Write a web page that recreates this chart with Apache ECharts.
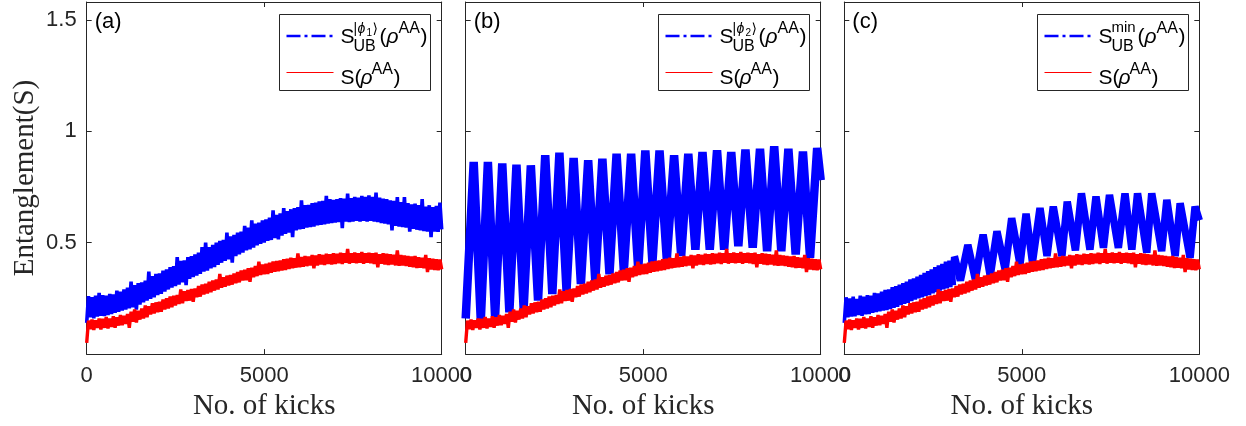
<!DOCTYPE html>
<html><head><meta charset="utf-8">
<script src="https://cdn.jsdelivr.net/npm/echarts@6/dist/echarts.min.js"></script>
<style>html,body{margin:0;padding:0;background:#fff}#main{width:1246px;height:426px}</style>
</head><body><div id="main"></div>
<script>
// ---------- data ----------
const xTicks = [0, 5000, 10000];
const yTickLabels = ['0.5', '1', '1.5'];
const panelLabels = ['(a)', '(b)', '(c)'];
const blueSupLabels = ['phi1', 'phi2', 'min'];
const xName = 'No. of kicks';
const yName = 'Entanglement(S)';

const kicks = [0,50,100,150,200,250,300,350,400,450,500,550,600,650,700,750,800,850,900,950,
  1000,1050,1100,1150,1200,1250,1300,1350,1400,1450,1500,1550,1600,1650,1700,1750,1800,1850,1900,1950,
  2000,2050,2100,2150,2200,2250,2300,2350,2400,2450,2500,2550,2600,2650,2700,2750,2800,2850,2900,2950,
  3000,3050,3100,3150,3200,3250,3300,3350,3400,3450,3500,3550,3600,3650,3700,3750,3800,3850,3900,3950,
  4000,4050,4100,4150,4200,4250,4300,4350,4400,4450,4500,4550,4600,4650,4700,4750,4800,4850,4900,4950,
  5000,5050,5100,5150,5200,5250,5300,5350,5400,5450,5500,5550,5600,5650,5700,5750,5800,5850,5900,5950,
  6000,6050,6100,6150,6200,6250,6300,6350,6400,6450,6500,6550,6600,6650,6700,6750,6800,6850,6900,6950,
  7000,7050,7100,7150,7200,7250,7300,7350,7400,7450,7500,7550,7600,7650,7700,7750,7800,7850,7900,7950,
  8000,8050,8100,8150,8200,8250,8300,8350,8400,8450,8500,8550,8600,8650,8700,8750,8800,8850,8900,8950,
  9000,9050,9100,9150,9200,9250,9300,9350,9400,9450,9500,9550,9600,9650,9700,9750,9800,9850,9900,9950,10000];

// S(rho^AA) (same curve in all panels)
const redS = [0.05,0.15,0.112,0.155,0.108,0.152,0.118,0.16,0.11,0.158,0.118,0.166,0.115,0.16,0.122,0.17,0.118,0.165,0.128,0.175,
  0.13,0.172,0.135,0.18,0.118,0.19,0.145,0.2,0.142,0.195,0.155,0.205,0.16,0.218,0.165,0.215,0.178,0.228,0.182,0.232,
  0.188,0.235,0.19,0.245,0.2,0.25,0.205,0.258,0.21,0.262,0.218,0.265,0.225,0.29,0.228,0.282,0.238,0.288,0.24,0.292,
  0.235,0.295,0.255,0.305,0.258,0.312,0.268,0.315,0.272,0.325,0.278,0.33,0.285,0.335,0.29,0.36,0.298,0.345,0.302,0.352,
  0.308,0.355,0.312,0.362,0.318,0.368,0.322,0.375,0.33,0.378,0.332,0.385,0.325,0.388,0.345,0.395,0.35,0.415,0.355,0.402,
  0.358,0.405,0.36,0.41,0.365,0.415,0.37,0.418,0.372,0.42,0.375,0.425,0.378,0.428,0.382,0.432,0.385,0.43,0.388,0.452,
  0.39,0.435,0.392,0.44,0.395,0.438,0.398,0.445,0.385,0.442,0.398,0.448,0.402,0.445,0.4,0.45,0.405,0.448,0.402,0.452,
  0.405,0.45,0.408,0.455,0.404,0.452,0.41,0.472,0.406,0.452,0.41,0.456,0.408,0.452,0.41,0.458,0.406,0.452,0.41,0.455,
  0.408,0.452,0.405,0.455,0.39,0.448,0.406,0.452,0.402,0.45,0.4,0.448,0.402,0.446,0.398,0.465,0.396,0.445,0.398,0.442,
  0.395,0.44,0.392,0.438,0.39,0.44,0.386,0.435,0.388,0.432,0.385,0.445,0.368,0.43,0.38,0.428,0.378,0.425,0.376,0.424,0.38];

// upper bound |phi1>
const blueA = [0.14,0.26,0.165,0.255,0.16,0.262,0.168,0.275,0.172,0.265,0.17,0.262,0.175,0.27,0.18,0.268,0.185,0.285,0.19,0.28,
  0.195,0.29,0.2,0.298,0.205,0.325,0.21,0.31,0.2,0.318,0.222,0.322,0.232,0.33,0.24,0.37,0.248,0.35,0.255,0.36,
  0.265,0.362,0.27,0.375,0.28,0.38,0.29,0.39,0.298,0.395,0.305,0.435,0.312,0.418,0.322,0.42,0.31,0.435,0.338,0.44,
  0.345,0.448,0.352,0.455,0.36,0.48,0.37,0.5,0.375,0.48,0.385,0.49,0.39,0.5,0.4,0.508,0.41,0.512,0.418,0.545,
  0.425,0.528,0.41,0.535,0.44,0.545,0.448,0.55,0.455,0.575,0.465,0.568,0.47,0.6,0.478,0.585,0.488,0.59,0.495,0.6,
  0.5,0.605,0.508,0.612,0.512,0.645,0.52,0.625,0.515,0.632,0.532,0.655,0.54,0.642,0.545,0.65,0.525,0.655,0.555,0.66,
  0.56,0.69,0.562,0.668,0.568,0.67,0.57,0.678,0.572,0.68,0.578,0.685,0.58,0.688,0.582,0.71,0.585,0.695,0.588,0.692,
  0.59,0.695,0.592,0.7,0.565,0.698,0.595,0.72,0.592,0.7,0.595,0.705,0.598,0.702,0.595,0.71,0.598,0.705,0.595,0.712,
  0.598,0.705,0.595,0.725,0.592,0.702,0.588,0.698,0.585,0.695,0.582,0.69,0.555,0.688,0.575,0.705,0.572,0.682,0.57,0.705,
  0.568,0.678,0.55,0.672,0.562,0.675,0.558,0.668,0.555,0.695,0.552,0.662,0.55,0.668,0.525,0.66,0.55,0.665,0.548,0.68,0.56];

// upper bound |phi2> : peaks / troughs
const blueBKicks = [0,225,425,625,828,1030,1230,1430,1632,1835,2038,2240,2440,2640,2840,3040,3245,3450,3650,3850,4050,4250,4455,4660,4860,5060,5260,5460,5665,5870,6070,6270,6470,6670,6875,7080,7280,7480,7680,7880,8085,8290,8490,8690,8890,9090,9295,9500,9700,9900,10000];
const blueB = [0.16,0.862,0.151,0.862,0.166,0.855,0.188,0.85,0.203,0.847,0.24,0.892,0.27,0.904,0.284,0.88,0.314,0.87,0.329,0.877,0.358,0.899,0.373,0.899,0.38,0.914,0.41,0.914,0.425,0.892,0.44,0.899,0.469,0.907,0.469,0.914,0.469,0.907,0.484,0.918,0.477,0.921,0.462,0.933,0.462,0.921,0.447,0.909,0.432,0.925,0.78];

// upper bound min : early noisy part (0..3100) and oscillating part
const blueCEarly = [0.14,0.255,0.165,0.25,0.168,0.258,0.17,0.248,0.175,0.262,0.172,0.258,0.178,0.265,0.18,0.262,0.185,0.275,0.188,0.272,
  0.192,0.28,0.195,0.288,0.198,0.29,0.202,0.3,0.208,0.305,0.212,0.312,0.22,0.318,0.225,0.325,0.23,0.335,0.238,0.34,
  0.245,0.348,0.25,0.355,0.255,0.365,0.26,0.372,0.265,0.38,0.272,0.39,0.278,0.398,0.285,0.405,0.29,0.415,0.295,0.42,
  0.3,0.43,0.31];
const blueCOscKicks = [3100,3270,3480,3690,3910,4110,4300,4530,4715,4950,5120,5300,5513,5710,5887,6130,6280,6510,6680,6920,7090,7300,7470,7720,7907,8100,8260,8520,8660,8940,9085,9320,9460,9740,9880,10000];
const blueCOsc = [0.44,0.33,0.49,0.336,0.536,0.351,0.551,0.38,0.61,0.403,0.63,0.412,0.655,0.44,0.662,0.44,0.684,0.465,0.721,0.469,0.707,0.477,0.714,0.477,0.721,0.469,0.721,0.455,0.721,0.462,0.692,0.44,0.677,0.432,0.662,0.6];

// ---------- layout / style ----------
const sans = "'Liberation Sans', Arial, 'DejaVu Sans', sans-serif";
const serif = "'Liberation Serif', 'Times New Roman', serif";
const axisColor = '#262626';
const BLUE = '#0000ff', RED = '#ff0000';
const lefts = [86.7, 465.7, 844.3];
const W = 355, TOP = 2, H = 355.3;

function pts(k, v) { return v.map((y, j) => [k[j], y]); }

const grids = lefts.map(l => ({ left: l, top: TOP, width: W, height: H }));

const xAxes = [], yAxes = [];
lefts.forEach((l, i) => {
  const common = {
    gridIndex: i, type: 'value', min: 0, max: 10000, interval: 5000,
    axisLine: { show: true, onZero: false, lineStyle: { color: axisColor, width: 1 } },
    axisTick: { show: true, inside: true, length: 5, lineStyle: { color: axisColor } },
    splitLine: { show: false }
  };
  xAxes.push(Object.assign({}, common, {
    position: 'bottom',
    axisLabel: { show: true, fontFamily: sans, fontSize: 22, color: axisColor, margin: 11,
      formatter: v => (xTicks.indexOf(v) >= 0 ? String(v) : '') },
    name: xName, nameLocation: 'middle', nameGap: 35,
    nameTextStyle: { fontFamily: serif, fontSize: 29, color: axisColor }
  }));
  xAxes.push(Object.assign({}, common, { position: 'top', axisLabel: { show: false } }));
  const ycommon = {
    gridIndex: i, type: 'value', min: 0, max: 1.58, interval: 0.5,
    axisLine: { show: true, onZero: false, lineStyle: { color: axisColor, width: 1 } },
    axisTick: { show: true, inside: true, length: 5, lineStyle: { color: axisColor } },
    splitLine: { show: false }
  };
  const yl = Object.assign({}, ycommon, {
    position: 'left',
    axisLabel: { show: i === 0, fontFamily: sans, fontSize: 22, color: axisColor, margin: 10,
      formatter: v => { const s = yTickLabels.find(t => Math.abs(parseFloat(t) - v) < 1e-9); return s || ''; } }
  });
  if (i === 0) {
    yl.name = yName; yl.nameLocation = 'middle'; yl.nameGap = 47;
    yl.nameTextStyle = { fontFamily: serif, fontSize: 29, color: axisColor };
  }
  yAxes.push(yl);
  yAxes.push(Object.assign({}, ycommon, { position: 'right', axisLabel: { show: false } }));
});

function line(i, data, color, width, z) {
  return { type: 'line', xAxisIndex: 2 * i, yAxisIndex: 2 * i, data: data,
    symbol: 'none', showSymbol: false, animation: false, silent: true, z: z,
    lineStyle: { color: color, width: width, join: 'bevel' }, itemStyle: { color: color } };
}

const series = [
  line(0, pts(kicks, blueA), BLUE, 3.6, 2),
  line(0, pts(kicks, redS), RED, 3.4, 3),
  line(1, pts(blueBKicks, blueB), BLUE, 8.5, 2),
  line(1, pts(kicks, redS), RED, 3.4, 3),
  line(2, pts(kicks, blueCEarly), BLUE, 3.6, 2),
  line(2, pts(blueCOscKicks, blueCOsc), BLUE, 7.5, 2),
  line(2, pts(kicks, redS), RED, 3.4, 3)
];

// ---------- legend + panel labels (graphic) ----------
function txt(s, x, baseline, size, italic) {
  return { type: 'text', z: 102, x: x, y: baseline - 0.31 * size,
    style: { text: s, font: (italic ? 'italic ' : '') + size + 'px ' + sans, fill: '#000',
      align: 'left', verticalAlign: 'middle', textAlign: 'left', textVerticalAlign: 'middle' } };
}
const graphics = [];
lefts.forEach((l, i) => {
  graphics.push(txt(panelLabels[i], l + 8, 28.5, 22, false));
  const right = l + W;
  const bx = Math.round(right - 162.4) + 0.5, by = 14.5, bw = 151, bh = 76;
  const tx = bx + 61;
  graphics.push({ type: 'rect', z: 100, shape: { x: bx, y: by, width: bw, height: bh },
    style: { fill: '#fff', stroke: axisColor, lineWidth: 1 } });
  graphics.push({ type: 'line', z: 101, shape: { x1: bx + 7, y1: 36, x2: bx + 54, y2: 36 },
    style: { stroke: BLUE, lineWidth: 2.5, lineDash: [14, 4, 3, 4] } });
  graphics.push({ type: 'line', z: 101, shape: { x1: bx + 7, y1: 72.5, x2: bx + 54, y2: 72.5 },
    style: { stroke: RED, lineWidth: 1 } });
  // row 1
  graphics.push(txt('S', tx, 43.5, 21, false));
  if (blueSupLabels[i] === 'min') {
    graphics.push(txt('min', tx + 13, 33, 15, false));
  } else {
    graphics.push(txt('|', tx + 13, 33, 14, false));
    graphics.push(txt('\u03d5', tx + 17, 33, 14, true));
    graphics.push(txt(blueSupLabels[i].slice(3), tx + 26, 36, 10, false));
    graphics.push(txt('\u27e9', tx + 32, 33, 14, false));
  }
  graphics.push(txt('UB', tx + 13, 51.7, 16, false));
  graphics.push(txt('(', tx + 39, 43.5, 21, false));
  graphics.push(txt('\u03c1', tx + 46, 43.5, 21, true));
  graphics.push(txt('AA', tx + 58, 33.5, 16, false));
  graphics.push(txt(')', tx + 80, 43.5, 21, false));
  // row 2
  graphics.push(txt('S', tx, 85, 21, false));
  graphics.push(txt('(', tx + 14, 85, 21, false));
  graphics.push(txt('\u03c1', tx + 20, 85, 21, true));
  graphics.push(txt('AA', tx + 31, 75, 16, false));
  graphics.push(txt(')', tx + 53, 85, 21, false));
});

const chart = echarts.init(document.getElementById('main'), null, { renderer: 'canvas', devicePixelRatio: 1 });
chart.setOption({
  animation: false,
  backgroundColor: '#ffffff',
  grid: grids,
  xAxis: xAxes,
  yAxis: yAxes,
  series: series,
  graphic: { elements: graphics }
});
</script>
</body></html>
